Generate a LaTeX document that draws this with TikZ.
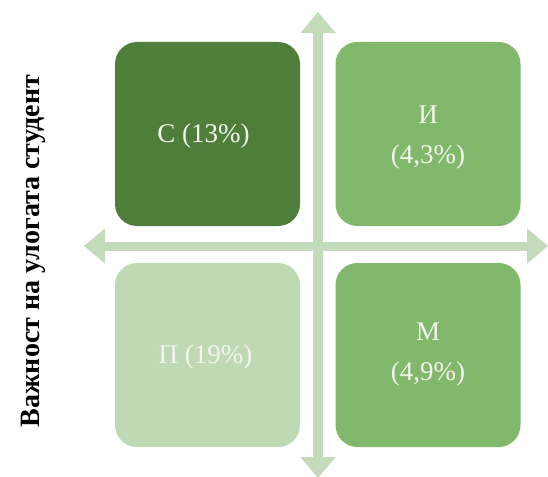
\documentclass[tikz,border=0pt]{standalone}
\usepackage{fontspec}
\setmainfont{Liberation Serif}
\usetikzlibrary{arrows.meta}
\definecolor{qdark}{HTML}{4E7E3A}
\definecolor{qmid}{HTML}{82B86C}
\definecolor{qlight}{HTML}{C0D9B5}
\definecolor{qaxis}{HTML}{C3DBBA}
\definecolor{qtext}{HTML}{F4F4EE}
\begin{document}
\begin{tikzpicture}[x=1pt,y=-1pt]
\tikzset{
  quad/.style={rounded corners=22pt, minimum width=185pt, minimum height=184pt,
    inner sep=0pt},
  qlab/.style={text=qtext, font=\fontsize{27}{40}\selectfont, align=center, inner sep=0pt},
  axisline/.style={draw=qaxis, line width=9pt,
    arrows={Triangle[width=34pt,length=21pt]-Triangle[width=34pt,length=21pt]}}
}
\useasboundingbox (0,0) rectangle (548,476);
\fill[white] (0,0) rectangle (548,476);
\coordinate (top) at (318,12);
\coordinate (bot) at (318,478);
\coordinate (lft) at (84,246);
\coordinate (rgt) at (548,246);
\draw[axisline] (lft) -- (rgt);
\draw[axisline, line width=10pt] (top) -- (bot);
\node[quad, fill=qdark, label={[qlab, xshift=-4pt, yshift=-2pt]center:С (13\%)}] (c) at (207.5,134) {};
\node[quad, fill=qmid, label={[qlab, yshift=-4pt]center:{И\\(4,3\%)}}] (i) at (428,134) {};
\node[quad, fill=qlight, label={[qlab, xshift=-2pt, yshift=-2pt]center:П (19\%)}] (p) at (207.5,355) {};
\node[quad, fill=qmid, label={[qlab]center:{М\\(4,9\%)}}] (m) at (428,355) {};
\node[rotate=90, font=\bfseries\fontsize{28}{30}\selectfont] (lab) at (33,251) {Важност на улогата студент};
\end{tikzpicture}
\end{document}
